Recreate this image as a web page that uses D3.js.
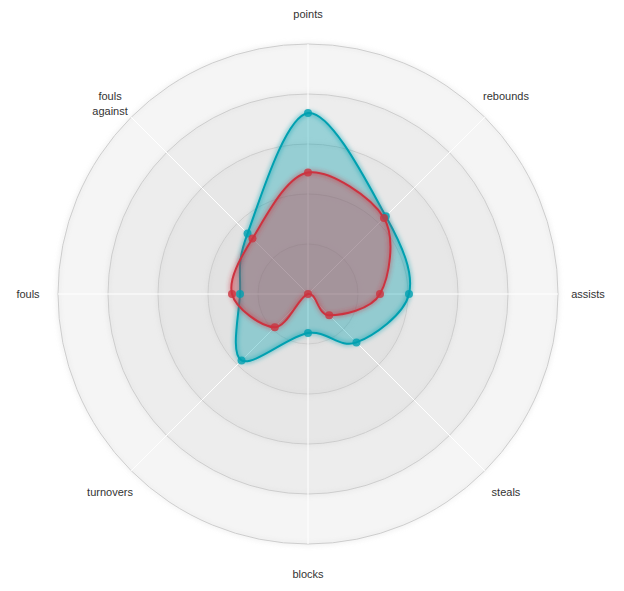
<!DOCTYPE html>
<html>
<head>
<meta charset="utf-8">
<script src="https://cdnjs.cloudflare.com/ajax/libs/d3/7.8.5/d3.min.js"></script>
<style>
  body { margin: 0; background: #fff; font-family: Arial, "Liberation Sans", sans-serif; }
  .legend { font-size: 11px; fill: #333; }
</style>
</head>
<body>
<div id="radar"></div>
<script>
// axes, clockwise from the top
const axes = ['points', 'rebounds', 'assists', 'steals', 'blocks', 'turnovers', 'fouls', 'fouls against'];

// values as share of the max
const seriesTeal = [0.724, 0.44, 0.404, 0.274, 0.156, 0.376, 0.272, 0.342];
const seriesRed = [0.486, 0.43, 0.288, 0.12, 0.0, 0.188, 0.304, 0.314];

const series = [seriesTeal, seriesRed];
const colors = ['#00A0B0', '#CC333F'];

const maxValue = 1;
const levels = 5;

const width = 624;
const height = 591;
const cx = 308;
const cy = 294;
const radius = 250;
const labelFactor = 1.12;
const wrapWidth = 60;
const dotRadius = 4;
const angleSlice = Math.PI * 2 / axes.length;

const rScale = d3.scaleLinear()
  .range([0, radius])
  .domain([0, maxValue]);

const svg = d3.select('#radar').append('svg')
  .attr('width', width)
  .attr('height', height);

const g = svg.append('g')
  .attr('transform', `translate(${cx},${cy})`);

// glow filter
const filter = g.append('defs').append('filter').attr('id', 'glow');
filter.append('feGaussianBlur').attr('stdDeviation', '2.5').attr('result', 'coloredBlur');
const feMerge = filter.append('feMerge');
feMerge.append('feMergeNode').attr('in', 'coloredBlur');
feMerge.append('feMergeNode').attr('in', 'SourceGraphic');

// background circles
const axisGrid = g.append('g').attr('class', 'axisWrapper');

axisGrid.selectAll('.levels')
  .data(d3.range(1, levels + 1).reverse())
  .enter()
    .append('circle')
    .attr('class', 'gridCircle')
    .attr('r', d => radius / levels * d)
    .style('fill', '#CDCDCD')
    .style('stroke', '#CDCDCD')
    .style('fill-opacity', 0.1)
    .style('filter', 'url(#glow)');

// axis lines + labels
const axis = axisGrid.selectAll('.axis')
  .data(axes)
  .enter()
    .append('g')
    .attr('class', 'axis');

axis.append('line')
  .attr('x1', 0)
  .attr('y1', 0)
  .attr('x2', (d, i) => rScale(maxValue) * Math.cos(angleSlice * i - Math.PI / 2))
  .attr('y2', (d, i) => rScale(maxValue) * Math.sin(angleSlice * i - Math.PI / 2))
  .style('stroke', 'white')
  .style('stroke-width', '1px');

axis.append('text')
  .attr('class', 'legend')
  .attr('text-anchor', 'middle')
  .attr('dy', '0.35em')
  .attr('x', (d, i) => rScale(maxValue * labelFactor) * Math.cos(angleSlice * i - Math.PI / 2))
  .attr('y', (d, i) => rScale(maxValue * labelFactor) * Math.sin(angleSlice * i - Math.PI / 2))
  .text(d => d)
  .call(wrap, wrapWidth);

// blobs
const radarLine = d3.lineRadial()
  .curve(d3.curveCardinalClosed)
  .radius(d => rScale(d))
  .angle((d, i) => i * angleSlice);

const blobWrapper = g.selectAll('.radarWrapper')
  .data(series)
  .enter()
    .append('g')
    .attr('class', 'radarWrapper');

blobWrapper.append('path')
  .attr('class', 'radarArea')
  .attr('d', d => radarLine(d))
  .style('fill', (d, i) => colors[i])
  .style('fill-opacity', 0.35);

blobWrapper.append('path')
  .attr('class', 'radarStroke')
  .attr('d', d => radarLine(d))
  .style('stroke-width', '2px')
  .style('stroke', (d, i) => colors[i])
  .style('fill', 'none')
  .style('filter', 'url(#glow)');

const circleWrapper = g.selectAll('.radarCircleWrapper')
  .data(series)
  .enter()
    .append('g')
    .attr('class', 'radarCircleWrapper')
    .style('fill', (d, i) => colors[i]);

circleWrapper.selectAll('.radarCircle')
  .data(d => d)
  .enter()
    .append('circle')
    .attr('class', 'radarCircle')
    .attr('r', dotRadius)
    .attr('cx', (d, i) => rScale(d) * Math.cos(angleSlice * i - Math.PI / 2))
    .attr('cy', (d, i) => rScale(d) * Math.sin(angleSlice * i - Math.PI / 2))
    .style('fill-opacity', 0.8);

// wraps labels onto several lines
function wrap(text, w) {
  text.each(function () {
    const t = d3.select(this);
    const words = t.text().split(/\s+/).reverse();
    const lineHeight = 1.4;
    const y = t.attr('y');
    const x = t.attr('x');
    const dy = parseFloat(t.attr('dy'));
    let line = [];
    let lineNumber = 0;
    let word;
    let tspan = t.text(null).append('tspan').attr('x', x).attr('y', y).attr('dy', dy + 'em');
    while ((word = words.pop())) {
      line.push(word);
      tspan.text(line.join(' '));
      if (tspan.node().getComputedTextLength() > w) {
        line.pop();
        tspan.text(line.join(' '));
        line = [word];
        tspan = t.append('tspan').attr('x', x).attr('y', y)
          .attr('dy', ++lineNumber * lineHeight + dy + 'em')
          .text(word);
      }
    }
  });
}
</script>
</body>
</html>
